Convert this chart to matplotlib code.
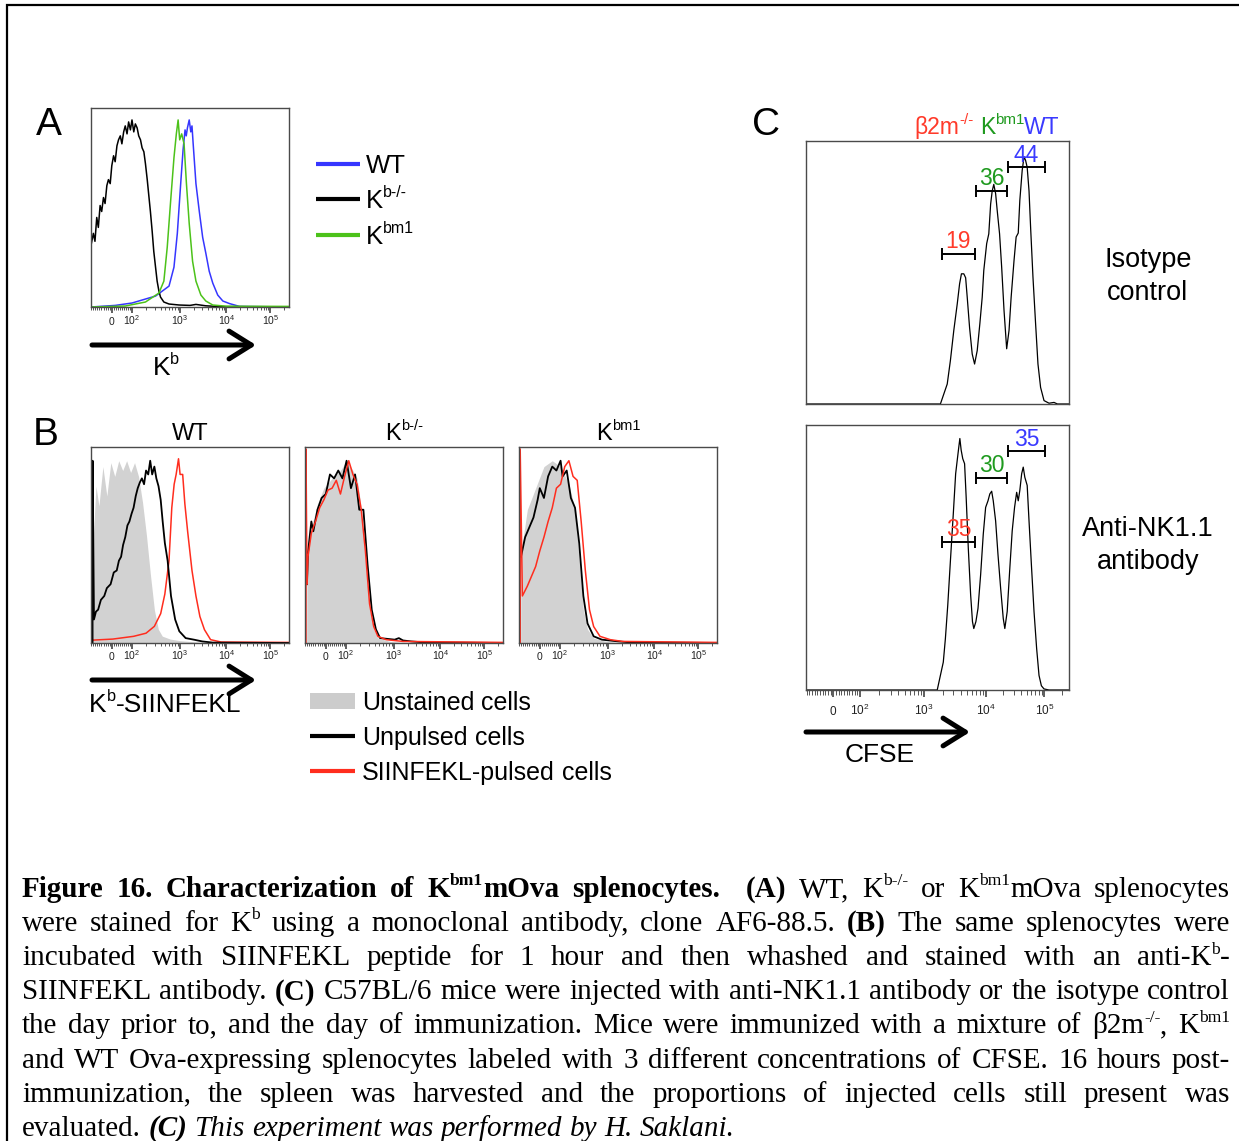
import re
import numpy as np
import matplotlib
matplotlib.use('Agg')
import matplotlib.pyplot as plt
from matplotlib.patches import Rectangle

# canvas in pixels
W, H = 1239, 1141
DPI = 100
PX = DPI / 72.0

SANS = 'Liberation Sans'
SERIF = 'Liberation Serif'

plt.rcParams['font.family'] = SANS
plt.rcParams['mathtext.fontset'] = 'custom'
plt.rcParams['mathtext.rm'] = SANS
plt.rcParams['mathtext.it'] = SANS + ':italic'
plt.rcParams['mathtext.bf'] = SANS + ':bold'

# colours
BLUE = '#3636ff'
GREEN = '#4cc21a'
RED = '#ff2d1e'
GREY = '#d2d2d2'
C_RED = '#ff3a2a'
C_GREEN = '#1f9a1f'
C_BLUE = '#3a3aff'

# biexponential axis: display position (fraction of axis) of 0, 1e2, 1e3, 1e4, 1e5
DECADE_POS = [0.104, 0.206, 0.448, 0.684, 0.906]
DECADE_LABELS = ['$0$', '$10^{2}$', '$10^{3}$', '$10^{4}$', '$10^{5}$']

# ---------------- data (x: per-mille of axis width, y: % of axis height) ----------------
# Panel A: Kb staining
A_WT_X = [0, 122, 207, 275, 326, 360, 394, 419, 436, 453, 465, 475, 481, 487, 496, 504, 510, 516,
          530, 547, 564, 580, 597, 615, 640, 666, 700, 750, 1000]
A_WT_Y = [0, 0.8, 2, 4, 5.5, 8, 10.5, 20, 37, 62, 79, 89, 86, 90, 94, 88, 91, 82,
          62, 48, 35, 27, 18, 12, 6, 3, 1.7, 0.3, 0]
A_KO_X = [0, 12, 20, 29, 37, 46, 54, 63, 71, 80, 88, 97, 105, 114, 122, 131, 139, 148, 156, 165,
          173, 182, 190, 199, 207, 216, 224, 233, 241, 250, 258, 267, 275, 284, 292, 300, 309, 317,
          326, 334, 343, 351, 368, 394, 445, 500, 530, 580, 650, 1000]
A_KO_Y = [31, 37, 33, 45, 40, 51, 48, 55, 52, 61, 64, 62, 71, 76, 73, 81, 84, 86, 82, 88,
          91, 87, 93, 89, 94, 88, 92, 90, 86, 84, 80, 78, 72, 64, 56, 48, 38, 28,
          20, 13, 8, 5, 2.5, 1.5, 1.0, 0.8, 1.3, 0.6, 0.2, 0]
A_BM1_X = [0, 173, 275, 343, 368, 385, 402, 419, 431, 440, 448, 458, 470, 482, 496, 513, 530,
           555, 580, 615, 683, 1000]
A_BM1_Y = [0, 0.5, 2.5, 7, 13, 30, 53, 75, 87, 94, 84, 87, 82, 62, 42, 23, 13,
           6, 3, 1, 0.4, 0.3]

# Panel B: Kb-SIINFEKL staining (unstained / unpulsed / pulsed)
B_WT_UNS_X = [8, 12, 25, 40, 60, 80, 100, 120, 140, 160, 180, 200, 220, 240, 260, 280, 300, 320,
              340, 360, 400, 450, 550, 650]
B_WT_UNS_Y = [0, 55, 80, 70, 90, 75, 92, 85, 93, 88, 93, 87, 92, 85, 72, 55, 35, 17,
              7, 3.5, 2, 1.2, 0.4, 0]
B_WT_UNP_X = [8, 8, 15, 25, 36, 50, 67, 80, 99, 115, 130, 141, 152, 162, 173, 184, 194, 205, 215,
              226, 236, 247, 257, 268, 278, 289, 299, 309, 320, 330, 341, 352, 362, 373, 387, 404,
              425, 446, 478, 520, 562, 615, 1000]
B_WT_UNP_Y = [0, 93, 12, 16, 17, 22, 24, 28, 30, 36, 37, 42, 44, 50, 54, 60, 62, 66, 69,
              75, 79, 82, 84, 81, 88, 86, 93, 86, 90, 84, 80, 73, 62, 51, 42, 24,
              12, 6, 2.5, 1.7, 0.8, 0.2, 0]
B_WT_PUL_X = [0, 15, 110, 215, 278, 320, 352, 373, 394, 408, 420, 430, 442, 450, 463, 474, 488,
              510, 530, 550, 573, 604, 657, 1000]
B_WT_PUL_Y = [1.5, 1.5, 2.0, 3.4, 5, 8.5, 15, 25, 42, 69, 81, 86, 94, 86, 86, 71, 57,
              37, 24, 13.5, 6.8, 1.7, 0.5, 0.3]

B_KO_UNS_X = [8, 10, 32, 63, 95, 137, 179, 210, 242, 263, 284, 305, 326, 347, 368, 430, 550]
B_KO_UNS_Y = [0, 42, 59, 71, 79, 84, 88, 93, 88, 84, 69, 42, 17, 7, 2.5, 0.8, 0]
B_KO_UNP_X = [10, 15, 32, 42, 63, 84, 105, 126, 147, 168, 189, 210, 232, 253, 274, 295, 316, 337,
              358, 379, 453, 474, 495, 537, 600, 1000]
B_KO_UNP_Y = [30, 46, 62, 57, 68, 74, 76, 86, 84, 88, 84, 93, 79, 86, 68, 68, 40, 17,
              7, 2.5, 1.7, 2.5, 1.3, 0.8, 0.3, 0]
B_KO_PUL_X = [5, 5, 10, 15, 32, 53, 74, 95, 116, 137, 158, 179, 200, 221, 242, 263, 284, 305,
              326, 347, 368, 410, 495, 1000]
B_KO_PUL_Y = [0, 99, 30, 44, 56, 62, 69, 73, 78, 79, 83, 76, 85, 93, 86, 81, 68, 47,
              20, 8.4, 3.4, 1.7, 0.8, 0.3]

B_BM1_UNS_X = [8, 10, 42, 84, 126, 168, 210, 252, 283, 304, 325, 346, 377, 440, 550]
B_BM1_UNS_Y = [0, 46, 68, 79, 90, 93, 90, 81, 68, 42, 17, 7, 2.5, 0.8, 0]
B_BM1_UNP_X = [10, 31, 52, 73, 94, 105, 126, 147, 168, 189, 210, 220, 241, 262, 283, 304, 325,
               346, 377, 419, 503, 566, 1000]
B_BM1_UNP_Y = [44, 54, 59, 64, 73, 79, 74, 85, 90, 88, 93, 85, 88, 74, 69, 51, 24,
               10, 3.4, 1.7, 0.8, 0.3, 0]
B_BM1_PUL_X = [6, 6, 17, 42, 63, 84, 105, 126, 147, 168, 189, 210, 231, 252, 273, 294, 314, 335,
               356, 377, 409, 461, 524, 1000]
B_BM1_PUL_Y = [0, 99, 24, 29, 34, 39, 47, 54, 62, 69, 79, 81, 90, 93, 85, 83, 62, 37,
               17, 8.4, 3.4, 1.7, 0.8, 0.3]

# Panel C: CFSE in vivo killing
C_ISO_X = [0, 511, 524, 537, 549, 562, 575, 584, 591, 600, 607, 613, 622, 632, 641, 651, 661, 670,
           676, 687, 695, 702, 708, 714, 721, 727, 736, 744, 753, 763, 772, 780, 791, 799, 807,
           813, 822, 829, 835, 841, 848, 854, 863, 873, 882, 892, 905, 924, 943, 956, 1000]
C_ISO_Y = [0, 0, 3.8, 7.6, 16.5, 28, 38, 45.7, 49.5, 49.5, 48, 40.6, 29, 19, 15.2, 20.3, 30.5, 40.6,
           50.8, 61, 64.7, 76, 81, 83.5, 80, 73.6, 64.7, 52, 35.5, 21, 28, 40.6, 54.6, 63.5, 65,
           77.4, 88.8, 94, 92.6, 90, 81, 67.2, 48.2, 30.5, 15.2, 6.3, 1.3, 0.3, 0.6, 0, 0]
C_NK_X = [0, 499, 511, 522, 530, 539, 549, 560, 569, 575, 581, 585, 590, 596, 603, 609, 617, 626,
          633, 638, 646, 654, 664, 674, 683, 692, 699, 706, 712, 721, 730, 740, 750, 756, 765, 775,
          784, 793, 801, 807, 813, 820, 826, 832, 841, 848, 857, 867, 877, 886, 895, 905, 924, 1000]
C_NK_Y = [0, 0, 5.5, 10.5, 19.4, 32, 48.6, 66.4, 81.6, 86.7, 91.7, 94.9, 90.5, 87.3, 85.4, 72.7,
          53.7, 35.9, 25.8, 23.2, 25.8, 30.8, 43.5, 58.8, 68.9, 71.4, 74, 75, 71.4, 63.8, 51.1,
          38.5, 27, 23.2, 29.6, 46, 60, 68.9, 74.6, 71.4, 75.3, 81.6, 84.1, 80.3, 77.2, 63.8,
          47.3, 29.6, 15.6, 5.5, 1.6, 0.4, 0, 0]

GATE_LO = [518, 645, 768]
GATE_HI = [641, 765, 909]
GATE_COLORS = [C_RED, C_GREEN, C_BLUE]
C_ISO_GATE_Y = [57, 81, 90]
C_ISO_PCT = ['19', '36', '44']
C_NK_GATE_Y = [56, 80, 90]
C_NK_PCT = ['35', '30', '35']

CAPTION = [
    "<b>Figure 16. Characterization of K<sup>bm1</sup>mOva splenocytes.</b>  <b>(A)</b> WT, "
    "K<sup>b-/-</sup> or K<sup>bm1</sup>mOva splenocytes",
    "were stained for K<sup>b</sup> using a monoclonal antibody, clone AF6-88.5. <b>(B)</b> "
    "The same splenocytes were",
    "incubated with SIINFEKL peptide for 1 hour and then whashed and stained with an anti-K<sup>b</sup>-",
    "SIINFEKL antibody. <b>(C)</b> C57BL/6 mice were injected with anti-NK1.1 antibody or the isotype control",
    "the day prior to, and the day of immunization. Mice were immunized with a mixture of "
    "\u03b22m<sup>-/-</sup>, K<sup>bm1</sup>",
    "and WT Ova-expressing splenocytes labeled with 3 different concentrations of CFSE. 16 hours post-",
    "immunization, the spleen was harvested and the proportions of injected cells still present was",
    "evaluated. <b><i>(C)</i></b><i> This experiment was performed by H. Saklani.</i>",
]

# ---------------- figure ----------------
fig = plt.figure(figsize=(W / DPI, H / DPI), dpi=DPI)
canvas = fig.add_axes([0, 0, 1, 1])
canvas.set_xlim(0, W)
canvas.set_ylim(H, 0)
canvas.axis('off')
R = fig.canvas.get_renderer()

TAG = re.compile(r'(</?(?:b|i|sup)>|<c [^>]*>|</c>)')


def parse(markup):
    """split markup into words; each word is a list of (text, bold, italic, sup, colour)"""
    state = {'b': False, 'i': False, 'sup': False, 'c': None}
    words = [[]]
    for part in TAG.split(markup):
        if not part:
            continue
        m = re.fullmatch(r'<(/?)(b|i|sup)>', part)
        if m:
            state[m.group(2)] = (m.group(1) == '')
            continue
        if part.startswith('<c '):
            state['c'] = part[3:-1]
            continue
        if part == '</c>':
            state['c'] = None
            continue
        for j, p in enumerate(part.split(' ')):
            if j > 0:
                words.append([])
            if p:
                words[-1].append((p, state['b'], state['i'], state['sup'], state['c']))
    while words and not words[0]:
        words.pop(0)
    while words and not words[-1]:
        words.pop()
    return words


def text_w(s, size, family):
    t = canvas.text(0, 0, s, fontsize=size, family=family)
    w = t.get_window_extent(renderer=R).width
    t.remove()
    return w


def rich(x, y, markup, size, family=SANS, color='k', ha='left', width=None,
         sup_scale=0.62, sup_rise=0.42):
    words = parse(markup)
    placed, word_w = [], []
    for word in words:
        items = []
        for txt, b, i, s, c in word:
            t = canvas.text(0, 0, txt, fontsize=size * sup_scale if s else size, family=family,
                            fontweight='bold' if b else 'normal',
                            fontstyle='italic' if i else 'normal',
                            color=c or color, va='baseline', ha='left')
            items.append((t, t.get_window_extent(renderer=R).width, s))
        placed.append(items)
        word_w.append(sum(w for _, w, _ in items))
    if width is not None and len(words) > 1:
        gap = (width - sum(word_w)) / (len(words) - 1)
    else:
        gap = text_w('n n', size, family) - text_w('nn', size, family)
    total = sum(word_w) + gap * (len(words) - 1)
    cx = {'left': x, 'center': x - total / 2, 'right': x - total}[ha]
    for items in placed:
        for t, w, s in items:
            t.set_position((cx, y - (size * sup_rise * PX if s else 0)))
            cx += w
        cx += gap
    return total


def arrow(x0, x1, y):
    canvas.annotate('', xy=(x1, y), xytext=(x0, y),
                    arrowprops=dict(arrowstyle='->,head_length=0.8,head_width=0.5', lw=3.6,
                                    color='k', shrinkA=0, shrinkB=0, mutation_scale=20))


def minor_positions():
    p0, p2 = DECADE_POS[0], DECADE_POS[1]
    pos = [p0 + v / 100 * (p2 - p0) for v in range(-100, 100, 10) if v != 0]
    for k in range(1, 4):
        lo, hi = DECADE_POS[k], DECADE_POS[k + 1]
        pos += [lo + (hi - lo) * np.log10(m) for m in range(2, 10)]
    pos.append(DECADE_POS[4] + (DECADE_POS[4] - DECADE_POS[3]) * np.log10(2))
    return [p * 1000 for p in pos]


def hist_axes(box, ticks=True, label_gap=17, label_size=7.5, tick_scale=1.0):
    l, t, r, b = box
    ax = fig.add_axes([l / W, 1 - b / H, (r - l) / W, (b - t) / H])
    ax.set_xlim(0, 1000)
    ax.set_ylim(0, 100)
    ax.set_yticks([])
    for s in ax.spines.values():
        s.set_color('#4a4a4a')
        s.set_linewidth(1.0)
    if ticks:
        ax.set_xticks([p * 1000 for p in DECADE_POS])
        ax.set_xticklabels([])
        ax.set_xticks(minor_positions(), minor=True)
        ax.tick_params(axis='x', which='major', length=4 * tick_scale, width=1.1,
                       direction='out', color='#333')
        ax.tick_params(axis='x', which='minor', length=2.5 * tick_scale, width=0.7,
                       direction='out', color='#555')
        for p, lab in zip(DECADE_POS, DECADE_LABELS):
            canvas.text(l + p * (r - l), b + label_gap, lab, fontsize=label_size, ha='center',
                        va='baseline', color='#222')
    else:
        ax.set_xticks([])
    return ax


# outer frame (top and left edges)
canvas.plot([7, 7, W + 5], [H + 5, 5, 5], color='k', lw=1.6, clip_on=False,
            solid_joinstyle='miter')

# ---------------- panel A ----------------
rich(36, 135, 'A', 28)
axA = hist_axes((91, 108, 289, 307), label_gap=18)
axA.plot(A_WT_X, A_WT_Y, color=BLUE, lw=1.1)
axA.plot(A_KO_X, A_KO_Y, color='k', lw=1.1)
axA.plot(A_BM1_X, A_BM1_Y, color=GREEN, lw=1.1)
for yy, col, lab in [(164, BLUE, 'WT'), (199, 'k', 'K<sup>b-/-</sup>'), (235, GREEN, 'K<sup>bm1</sup>')]:
    canvas.plot([316, 360], [yy, yy], color=col, lw=3.0, solid_capstyle='butt')
    rich(366, yy + 9, lab, 18.5)
arrow(92, 256, 345)
rich(166, 375, 'K<sup>b</sup>', 19, ha='center')

# ---------------- panel B ----------------
rich(33, 445, 'B', 28)
B_BOXES = [(91, 447, 289, 643), (305, 447, 503, 643), (519, 447, 717, 643)]
B_TITLES = ['WT', 'K<sup>b-/-</sup>', 'K<sup>bm1</sup>']
B_DATA = [
    (B_WT_UNS_X, B_WT_UNS_Y, B_WT_UNP_X, B_WT_UNP_Y, B_WT_PUL_X, B_WT_PUL_Y),
    (B_KO_UNS_X, B_KO_UNS_Y, B_KO_UNP_X, B_KO_UNP_Y, B_KO_PUL_X, B_KO_PUL_Y),
    (B_BM1_UNS_X, B_BM1_UNS_Y, B_BM1_UNP_X, B_BM1_UNP_Y, B_BM1_PUL_X, B_BM1_PUL_Y),
]
for i, (box, title, d) in enumerate(zip(B_BOXES, B_TITLES, B_DATA)):
    ax = hist_axes(box)
    ax.fill_between(d[0], d[1], 0, color=GREY, lw=0)
    if i == 0:
        ax.plot(d[4], d[5], color=RED, lw=1.1)
        ax.plot(d[2], d[3], color='k', lw=1.3)
    else:
        ax.plot(d[2], d[3], color='k', lw=1.3)
        ax.plot(d[4], d[5], color=RED, lw=1.1)
    rich((box[0] + box[2]) / 2, 440, title, 17, ha='center')
arrow(92, 256, 680)
rich(89, 712, 'K<sup>b</sup>-SIINFEKL', 19)
canvas.add_patch(Rectangle((310, 693), 45, 16, color='#cccccc', lw=0))
rich(362, 710, 'Unstained cells', 18)
canvas.plot([310, 355], [736, 736], color='k', lw=3.0, solid_capstyle='butt')
rich(362, 745, 'Unpulsed cells', 18)
canvas.plot([310, 355], [771, 771], color=RED, lw=3.0, solid_capstyle='butt')
rich(362, 780, 'SIINFEKL-pulsed cells', 18)

# ---------------- panel C ----------------
rich(752, 135, 'C', 28)
rich(987, 134, '<c ' + C_RED + '>\u03b22m<sup>-/-</sup></c> <c ' + C_GREEN + '>K<sup>bm1</sup></c>'
     '<c ' + C_BLUE + '>WT</c>', 16.5, ha='center', sup_scale=0.66)


def cfse_panel(box, xs, ys, gate_y, pcts, ticks):
    ax = hist_axes(box, ticks=ticks, label_gap=25, label_size=8.5, tick_scale=1.3)
    ax.plot(xs, ys, color='k', lw=0.9)
    for lo, hi, gy, pct, col in zip(GATE_LO, GATE_HI, gate_y, pcts, GATE_COLORS):
        ax.errorbar((lo + hi) / 2, gy, xerr=(hi - lo) / 2, fmt='none', ecolor='k',
                    elinewidth=1.4, capsize=4, capthick=1.4)
        ax.annotate(pct, xy=((lo + hi) / 2, gy), xytext=(0, 0.5), textcoords='offset points',
                    ha='center', va='bottom', fontsize=16.5, color=col)
    return ax


cfse_panel((806, 141, 1069, 404), C_ISO_X, C_ISO_Y, C_ISO_GATE_Y, C_ISO_PCT, ticks=False)
cfse_panel((806, 425, 1069, 690), C_NK_X, C_NK_Y, C_NK_GATE_Y, C_NK_PCT, ticks=True)
rich(1148, 267, 'Isotype', 19.5, ha='center')
rich(1148, 300, 'control', 19.5, ha='center')
rich(1148, 536, 'Anti-NK1.1', 19.5, ha='center')
rich(1148, 569, 'antibody', 19.5, ha='center')
arrow(806, 970, 732)
rich(880, 762, 'CFSE', 19, ha='center')

# ---------------- caption ----------------
CAP_LEFT, CAP_RIGHT = 22, 1230
for k, line in enumerate(CAPTION):
    last = k == len(CAPTION) - 1
    rich(CAP_LEFT, 897 + 34.1 * k, line, 21, family=SERIF,
         width=None if last else CAP_RIGHT - CAP_LEFT, sup_scale=0.6, sup_rise=0.4)

fig.savefig('out.png', dpi=DPI)
